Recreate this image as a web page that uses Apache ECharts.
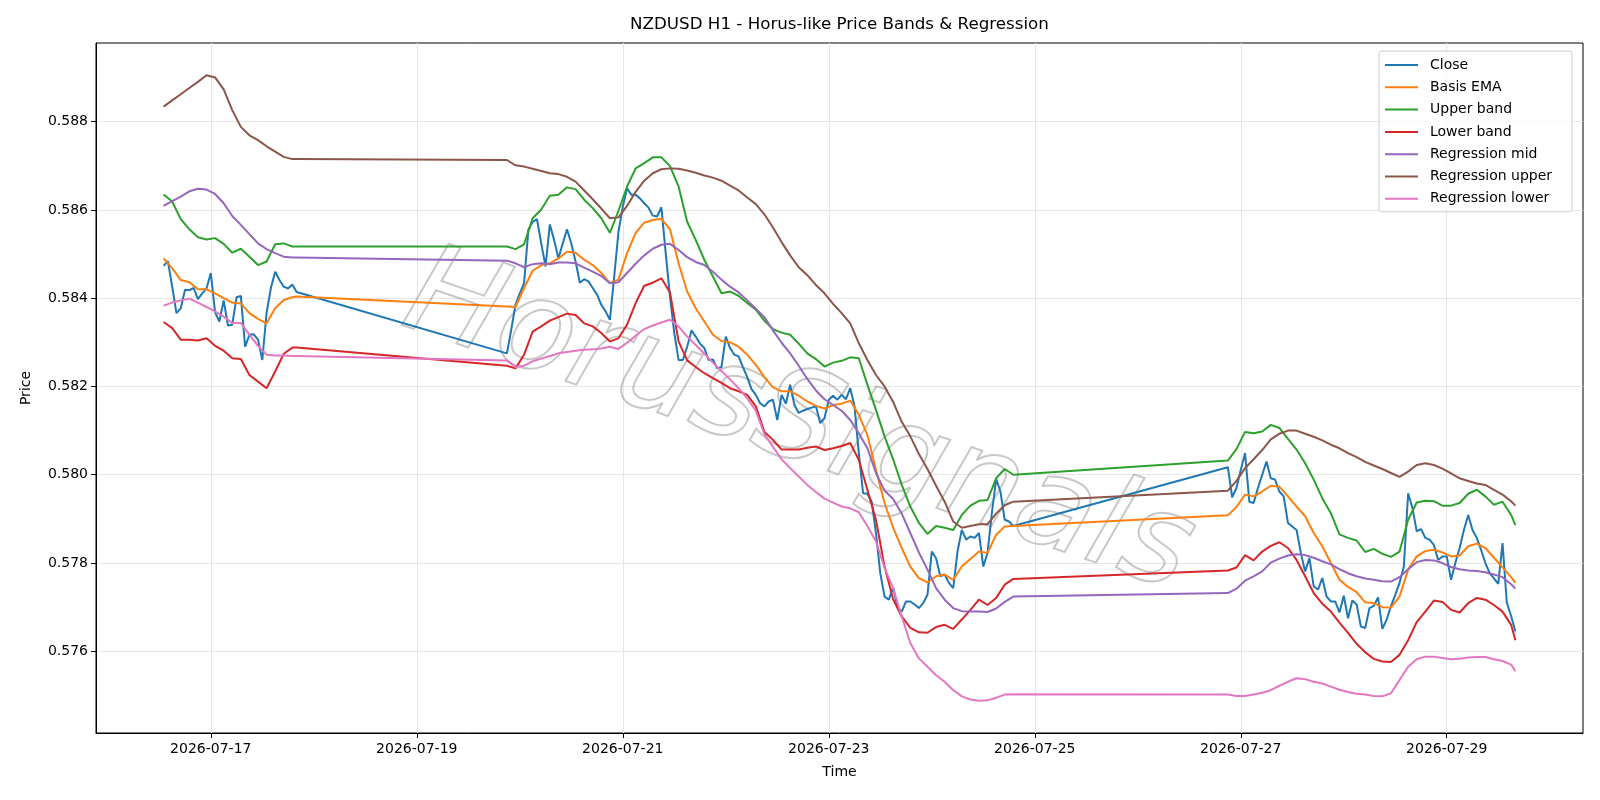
<!DOCTYPE html>
<html>
<head>
<meta charset="utf-8">
<title>NZDUSD H1 - Horus-like Price Bands & Regression</title>
<script src="https://cdn.jsdelivr.net/npm/echarts@6/dist/echarts.min.js"></script>
<style>
  html, body { margin: 0; padding: 0; background: #fff; }
  #chart { width: 1600px; height: 800px; }
</style>
</head>
<body>
<div id="chart"></div>
<script>
// hours are counted from 2026-07-17 00:00
const BASE_DAY = Date.UTC(2026, 6, 17)
const tickHours = [0, 48, 96, 144, 192, 240, 288]
const priceTicks = [0.576, 0.578, 0.580, 0.582, 0.584, 0.586, 0.588]

// trading sessions (first hour, last hour)
const sessions = [[-11, 20], [69, 187], [237, 304]]

// close, one value per hour of each session
const close = [
  // -11 .. 20
  0.58473, 0.58484, 0.58426, 0.58366, 0.58377, 0.58419, 0.58418, 0.58423, 0.58398, 0.58411,
  0.58422, 0.58457, 0.58368, 0.58347, 0.58395, 0.58338, 0.58340, 0.58402, 0.58405, 0.58290,
  0.58317, 0.58318, 0.58306, 0.58260, 0.58367, 0.58423, 0.58460, 0.58441, 0.58426, 0.58422,
  0.58431, 0.58414,
  // 69 .. 187
  0.58275, 0.58328, 0.58385, 0.58411, 0.58434, 0.58555, 0.58573, 0.58579, 0.58524, 0.58472,
  0.58567, 0.58532, 0.58490, 0.58524, 0.58556, 0.58524, 0.58483, 0.58435, 0.58443, 0.58438,
  0.58423, 0.58408, 0.58385, 0.58370, 0.58351, 0.58449, 0.58550, 0.58607, 0.58649, 0.58634,
  0.58634, 0.58626, 0.58615, 0.58605, 0.58587, 0.58585, 0.58606, 0.58502, 0.58404, 0.58321,
  0.58260, 0.58260, 0.58290, 0.58327, 0.58313, 0.58297, 0.58287, 0.58260, 0.58261, 0.58241,
  0.58244, 0.58313, 0.58287, 0.58272, 0.58268, 0.58244, 0.58221, 0.58194, 0.58181, 0.58162,
  0.58155, 0.58166, 0.58170, 0.58124, 0.58181, 0.58161, 0.58204, 0.58158, 0.58140, 0.58145,
  0.58149, 0.58152, 0.58155, 0.58117, 0.58128, 0.58170, 0.58179, 0.58170, 0.58181, 0.58171,
  0.58196, 0.58155, 0.58049, 0.57958, 0.57957, 0.57939, 0.57868, 0.57777, 0.57724, 0.57717,
  0.57745, 0.57700, 0.57690, 0.57713, 0.57713, 0.57706, 0.57698, 0.57709, 0.57728, 0.57826,
  0.57811, 0.57770, 0.57774, 0.57755, 0.57743, 0.57826, 0.57875, 0.57853, 0.57860, 0.57857,
  0.57868, 0.57792, 0.57823, 0.57913, 0.57990, 0.57962, 0.57898, 0.57894, 0.57884,
  // 237 .. 304
  0.58017, 0.57949, 0.57970, 0.58011, 0.58049, 0.57939, 0.57936, 0.57970, 0.58000, 0.58030,
  0.57992, 0.57989, 0.57962, 0.57951, 0.57891, 0.57883, 0.57875, 0.57823, 0.57781, 0.57811,
  0.57747, 0.57740, 0.57766, 0.57724, 0.57713, 0.57713, 0.57688, 0.57726, 0.57675, 0.57715,
  0.57706, 0.57656, 0.57653, 0.57698, 0.57703, 0.57722, 0.57651, 0.57672, 0.57702, 0.57728,
  0.57755, 0.57792, 0.57958, 0.57925, 0.57872, 0.57877, 0.57857, 0.57853, 0.57841, 0.57807,
  0.57815, 0.57815, 0.57762, 0.57800, 0.57834, 0.57875, 0.57909, 0.57875, 0.57857, 0.57830,
  0.57800, 0.57777, 0.57765, 0.57753, 0.57845, 0.57710, 0.57680, 0.57645
]

// the smooth lines are read every 2 hours (odd hours + session end)
const basisEma = [
  0.58490, 0.58468, 0.58441, 0.58436, 0.58420, 0.58420, 0.58411, 0.58400, 0.58390, 0.58388,
  0.58366, 0.58353, 0.58343, 0.58377, 0.58396, 0.58402, 0.58404,
  0.58381, 0.58380, 0.58423, 0.58462, 0.58475, 0.58479, 0.58490, 0.58505, 0.58503, 0.58487,
  0.58475, 0.58457, 0.58434, 0.58442, 0.58502, 0.58548, 0.58571, 0.58577, 0.58580, 0.58556,
  0.58479, 0.58415, 0.58377, 0.58347, 0.58317, 0.58303, 0.58300, 0.58290, 0.58272, 0.58249,
  0.58221, 0.58198, 0.58189, 0.58189, 0.58179, 0.58166, 0.58156, 0.58150, 0.58158, 0.58161,
  0.58168, 0.58136, 0.58090, 0.58011, 0.57936, 0.57880, 0.57834, 0.57792, 0.57766, 0.57756,
  0.57770, 0.57774, 0.57762, 0.57792, 0.57809, 0.57826, 0.57823, 0.57864, 0.57883, 0.57884,
  0.57908, 0.57927, 0.57955, 0.57951, 0.57962, 0.57975, 0.57973, 0.57951, 0.57928, 0.57906,
  0.57868, 0.57838, 0.57800, 0.57762, 0.57746, 0.57734, 0.57711, 0.57709, 0.57700, 0.57699,
  0.57724, 0.57785, 0.57815, 0.57827, 0.57830, 0.57824, 0.57815, 0.57817, 0.57838, 0.57844,
  0.57834, 0.57812, 0.57790, 0.57768, 0.57755
]
const upperBand = [
  0.58635, 0.58619, 0.58579, 0.58556, 0.58538, 0.58533, 0.58536, 0.58523, 0.58503, 0.58512,
  0.58494, 0.58475, 0.58483, 0.58522, 0.58524, 0.58517, 0.58517,
  0.58517, 0.58511, 0.58522, 0.58581, 0.58601, 0.58632, 0.58634, 0.58651, 0.58647, 0.58623,
  0.58604, 0.58581, 0.58548, 0.58598, 0.58653, 0.58694, 0.58706, 0.58719, 0.58719, 0.58699,
  0.58653, 0.58573, 0.58532, 0.58487, 0.58449, 0.58411, 0.58415, 0.58405, 0.58389, 0.58374,
  0.58349, 0.58330, 0.58322, 0.58317, 0.58297, 0.58275, 0.58262, 0.58245, 0.58254, 0.58258,
  0.58266, 0.58264, 0.58204, 0.58147, 0.58087, 0.58035, 0.57977, 0.57928, 0.57891, 0.57866,
  0.57884, 0.57880, 0.57875, 0.57909, 0.57930, 0.57941, 0.57943, 0.57992, 0.58013, 0.58000,
  0.58032, 0.58058, 0.58097, 0.58094, 0.58098, 0.58113, 0.58106, 0.58081, 0.58057, 0.58026,
  0.57989, 0.57947, 0.57913, 0.57865, 0.57857, 0.57851, 0.57825, 0.57832, 0.57821, 0.57814,
  0.57826, 0.57898, 0.57937, 0.57941, 0.57940, 0.57930, 0.57930, 0.57936, 0.57957, 0.57966,
  0.57951, 0.57932, 0.57939, 0.57909, 0.57886
]
const lowerBand = [
  0.58346, 0.58332, 0.58306, 0.58306, 0.58304, 0.58309, 0.58292, 0.58281, 0.58264, 0.58262,
  0.58226, 0.58211, 0.58196, 0.58234, 0.58274, 0.58288, 0.58288,
  0.58247, 0.58241, 0.58272, 0.58324, 0.58336, 0.58349, 0.58357, 0.58365, 0.58362, 0.58343,
  0.58336, 0.58321, 0.58302, 0.58309, 0.58340, 0.58389, 0.58428, 0.58435, 0.58445, 0.58413,
  0.58302, 0.58259, 0.58244, 0.58230, 0.58219, 0.58208, 0.58196, 0.58189, 0.58181, 0.58155,
  0.58097, 0.58079, 0.58057, 0.58057, 0.58057, 0.58061, 0.58064, 0.58056, 0.58060, 0.58065,
  0.58072, 0.58034, 0.57966, 0.57898, 0.57792, 0.57718, 0.57679, 0.57653, 0.57643, 0.57642,
  0.57655, 0.57660, 0.57651, 0.57672, 0.57694, 0.57717, 0.57705, 0.57721, 0.57751, 0.57764,
  0.57783, 0.57790, 0.57818, 0.57806, 0.57826, 0.57839, 0.57847, 0.57834, 0.57807, 0.57770,
  0.57732, 0.57708, 0.57690, 0.57665, 0.57642, 0.57617, 0.57598, 0.57583, 0.57577, 0.57576,
  0.57592, 0.57625, 0.57666, 0.57690, 0.57715, 0.57712, 0.57694, 0.57688, 0.57709, 0.57721,
  0.57717, 0.57705, 0.57690, 0.57660, 0.57625
]
const regMid = [
  0.58609, 0.58620, 0.58630, 0.58642, 0.58648, 0.58646, 0.58636, 0.58615, 0.58586, 0.58566,
  0.58545, 0.58524, 0.58511, 0.58502, 0.58494, 0.58492, 0.58492,
  0.58485, 0.58479, 0.58470, 0.58477, 0.58479, 0.58477, 0.58481, 0.58481, 0.58479, 0.58469,
  0.58460, 0.58450, 0.58434, 0.58436, 0.58457, 0.58478, 0.58497, 0.58512, 0.58521, 0.58523,
  0.58509, 0.58493, 0.58482, 0.58475, 0.58460, 0.58442, 0.58426, 0.58413, 0.58395, 0.58376,
  0.58357, 0.58327, 0.58299, 0.58275, 0.58247, 0.58217, 0.58191, 0.58171, 0.58158, 0.58145,
  0.58124, 0.58094, 0.58060, 0.58004, 0.57964, 0.57945, 0.57912, 0.57868, 0.57824, 0.57785,
  0.57743, 0.57717, 0.57698, 0.57691, 0.57690, 0.57690, 0.57689, 0.57697, 0.57712, 0.57724,
  0.57732, 0.57742, 0.57760, 0.57770, 0.57781, 0.57801, 0.57810, 0.57817, 0.57820, 0.57818,
  0.57812, 0.57804, 0.57797, 0.57786, 0.57777, 0.57770, 0.57765, 0.57762, 0.57759, 0.57758,
  0.57768, 0.57786, 0.57802, 0.57807, 0.57806, 0.57800, 0.57791, 0.57786, 0.57783, 0.57782,
  0.57779, 0.57774, 0.57768, 0.57752, 0.57742
]
const regUpper = [
  0.58834, 0.58848, 0.58862, 0.58876, 0.58890, 0.58905, 0.58900, 0.58873, 0.58826, 0.58788,
  0.58769, 0.58758, 0.58744, 0.58732, 0.58720, 0.58715, 0.58715,
  0.58713, 0.58701, 0.58698, 0.58693, 0.58688, 0.58683, 0.58681, 0.58675, 0.58664, 0.58644,
  0.58624, 0.58603, 0.58581, 0.58583, 0.58609, 0.58641, 0.58666, 0.58683, 0.58692, 0.58694,
  0.58693, 0.58689, 0.58684, 0.58678, 0.58673, 0.58666, 0.58655, 0.58644, 0.58628, 0.58613,
  0.58590, 0.58560, 0.58527, 0.58497, 0.58470, 0.58452, 0.58430, 0.58411, 0.58387, 0.58366,
  0.58343, 0.58298, 0.58260, 0.58226, 0.58200, 0.58165, 0.58120, 0.58087, 0.58047, 0.58013,
  0.57975, 0.57939, 0.57894, 0.57880, 0.57884, 0.57888, 0.57888, 0.57912, 0.57931, 0.57939,
  0.57964, 0.57986, 0.58015, 0.58035, 0.58056, 0.58080, 0.58093, 0.58100, 0.58100, 0.58093,
  0.58086, 0.58078, 0.58068, 0.58060, 0.58049, 0.58040, 0.58029, 0.58021, 0.58013, 0.58004,
  0.57995, 0.58007, 0.58022, 0.58026, 0.58022, 0.58014, 0.58003, 0.57992, 0.57986, 0.57980,
  0.57977, 0.57966, 0.57955, 0.57940, 0.57930
]
const regLower = [
  0.58383, 0.58390, 0.58395, 0.58399, 0.58390, 0.58380, 0.58370, 0.58358, 0.58344, 0.58344,
  0.58317, 0.58292, 0.58272, 0.58270, 0.58270, 0.58269, 0.58269,
  0.58259, 0.58244, 0.58247, 0.58257, 0.58263, 0.58269, 0.58275, 0.58278, 0.58281, 0.58283,
  0.58284, 0.58286, 0.58290, 0.58285, 0.58299, 0.58315, 0.58330, 0.58338, 0.58345, 0.58351,
  0.58336, 0.58313, 0.58294, 0.58274, 0.58254, 0.58235, 0.58216, 0.58196, 0.58173, 0.58145,
  0.58092, 0.58063, 0.58035, 0.58015, 0.57996, 0.57977, 0.57961, 0.57946, 0.57937, 0.57928,
  0.57924, 0.57915, 0.57884, 0.57849, 0.57789, 0.57743, 0.57679, 0.57619, 0.57584, 0.57565,
  0.57546, 0.57531, 0.57512, 0.57498, 0.57491, 0.57488, 0.57489, 0.57495, 0.57502, 0.57503,
  0.57502, 0.57499, 0.57499, 0.57502, 0.57506, 0.57512, 0.57522, 0.57531, 0.57539, 0.57537,
  0.57531, 0.57527, 0.57520, 0.57513, 0.57508, 0.57504, 0.57502, 0.57499, 0.57498, 0.57505,
  0.57535, 0.57565, 0.57582, 0.57588, 0.57588, 0.57585, 0.57582, 0.57583, 0.57586, 0.57587,
  0.57587, 0.57582, 0.57578, 0.57570, 0.57555
]

const colors = ['#1f77b4', '#ff7f0e', '#2ca02c', '#d62728', '#9467bd', '#8c564b', '#e377c2']
const FONT = 'DejaVu Sans'

// hour grids for the two sampling rates
function hourGrid(step) {
  const out = []
  sessions.forEach(([a, b]) => {
    let h = a
    for (; h <= b; h += step) out.push(h)
    if (out[out.length - 1] !== b) out.push(b)
  })
  return out
}
const closeHours = hourGrid(1)
const bandHours = hourGrid(2)

function pairs(hours, values) {
  if (hours.length !== values.length) console.error('length mismatch', hours.length, values.length)
  return hours.map((h, i) => [h, values[i]])
}

function dayLabel(h) {
  const d = new Date(BASE_DAY + h * 3600 * 1000)
  const p = n => String(n).padStart(2, '0')
  return d.getUTCFullYear() + '-' + p(d.getUTCMonth() + 1) + '-' + p(d.getUTCDate())
}

const lineSeries = [
  ['Close', closeHours, close],
  ['Basis EMA', bandHours, basisEma],
  ['Upper band', bandHours, upperBand],
  ['Lower band', bandHours, lowerBand],
  ['Regression mid', bandHours, regMid],
  ['Regression upper', bandHours, regUpper],
  ['Regression lower', bandHours, regLower]
].map(([name, hours, values], i) => ({
  name: name,
  type: 'line',
  data: pairs(hours, values),
  symbol: 'none',
  showSymbol: false,
  lineStyle: { width: 2, color: colors[i] },
  itemStyle: { color: colors[i] },
  z: 2 + i
}))

const chart = echarts.init(document.getElementById('chart'), null, { renderer: 'canvas' })
chart.setOption({
  animation: false,
  backgroundColor: '#fff',
  color: colors,
  title: {
    text: 'NZDUSD H1 - Horus-like Price Bands & Regression',
    left: 839.5,
    top: 16,
    padding: 0,
    textAlign: 'center',
    textStyle: { fontFamily: FONT, fontSize: 16.7, fontWeight: 'normal', color: '#000' }
  },
  legend: {
    orient: 'vertical',
    left: 1379,
    top: 51,
    padding: [6, 20, 5, 6],
    itemGap: 6.3,
    itemWidth: 33,
    itemHeight: 2,
    icon: 'rect',
    backgroundColor: 'rgba(255,255,255,0.8)',
    borderColor: '#cccccc',
    borderWidth: 1,
    borderRadius: 3,
    textStyle: { fontFamily: FONT, fontSize: 14, color: '#000', lineHeight: 16, padding: [0, 0, 0, 7] }
  },
  grid: {
    left: 96, right: 17, top: 43, bottom: 67,
    show: true, borderColor: '#000', borderWidth: 1, backgroundColor: 'transparent'
  },
  graphic: [{
    type: 'text',
    x: 798,
    y: 426,
    rotation: -0.33,
    silent: true,
    z: 1,
    style: {
      text: 'HorusSignals',
      fontFamily: FONT,
      fontSize: 126,
      fontStyle: 'italic',
      align: 'center',
      verticalAlign: 'middle',
      fill: 'rgba(255,255,255,0)',
      stroke: 'rgba(110,110,110,0.38)',
      lineWidth: 2
    }
  }],
  xAxis: {
    type: 'value',
    min: -26.75,
    max: 319.75,
    name: 'Time',
    nameLocation: 'middle',
    nameGap: 32,
    nameTextStyle: { fontFamily: FONT, fontSize: 14, color: '#000' },
    axisLine: { show: true, onZero: false, lineStyle: { color: '#000', width: 1 } },
    axisTick: { show: true, length: 5, customValues: tickHours, lineStyle: { color: '#000', width: 1 } },
    axisLabel: {
      customValues: tickHours,
      formatter: v => dayLabel(v),
      margin: 9,
      color: '#000',
      fontFamily: FONT,
      fontSize: 14
    },
    splitLine: { show: true, lineStyle: { color: '#e6e6e6', width: 1 } }
  },
  yAxis: {
    type: 'value',
    min: 0.57415,
    max: 0.58978,
    name: 'Price',
    nameLocation: 'middle',
    nameGap: 63,
    nameTextStyle: { fontFamily: FONT, fontSize: 14, color: '#000' },
    axisLine: { show: true, onZero: false, lineStyle: { color: '#000', width: 1 } },
    axisTick: { show: true, length: 5, customValues: priceTicks, lineStyle: { color: '#000', width: 1 } },
    axisLabel: {
      customValues: priceTicks,
      formatter: v => v.toFixed(3),
      margin: 8,
      color: '#000',
      fontFamily: FONT,
      fontSize: 14
    },
    splitLine: { show: true, lineStyle: { color: '#e6e6e6', width: 1 } }
  },
  series: lineSeries
})
</script>
</body>
</html>
